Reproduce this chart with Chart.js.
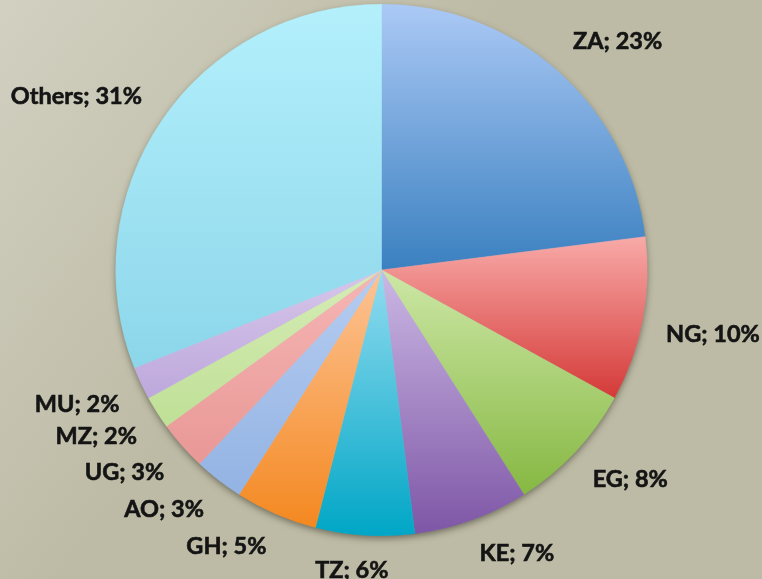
<!DOCTYPE html>
<html>
<head>
<meta charset="utf-8">
<script src="https://cdn.jsdelivr.net/npm/chart.js@4.4.0/dist/chart.umd.min.js"></script>
<style>
  html, body { margin: 0; padding: 0; }
  body {
    width: 762px; height: 579px; overflow: hidden;
    background-color: #bdbba5;
    background-image:
      linear-gradient(128deg, rgba(255,255,255,0.32) 0%, rgba(255,255,255,0.18) 18%, rgba(255,255,255,0.10) 30%, rgba(255,255,255,0) 42%);
  }
  #wrap { position: relative; width: 762px; height: 579px; }
</style>
</head>
<body>
<div id="wrap"><canvas id="c" width="762" height="579"></canvas></div>
<script>
const categories = ['ZA', 'NG', 'EG', 'KE', 'TZ', 'GH', 'AO', 'UG', 'MZ', 'MU', 'Others'];
const shares = [23, 10, 8, 7, 6, 5, 3, 3, 2, 2, 31];
const lightColors = ['#abc9f5', '#f8aaa8', '#cde7a6', '#cbb8e4', '#93dcf0', '#fdc496', '#b6cdf1', '#f5b6b4', '#d6ecb6', '#d6c6ea', '#b4f0fc'];
const darkColors  = ['#3a80c0', '#d43a38', '#86b842', '#7e56a6', '#00a6c6', '#f48820', '#93b3e3', '#e99896', '#bfe096', '#bea8dc', '#8cd6ea'];

const gradientPlugin = {
  id: 'sliceGradients',
  beforeDatasetsDraw(chart) {
    const ctx = chart.ctx;
    const meta = chart.getDatasetMeta(0);
    if (!meta.data.length) return;
    const el0 = meta.data[0];
    ctx.save();
    ctx.shadowColor = 'rgba(40,40,30,0.55)';
    ctx.shadowBlur = 7;
    ctx.shadowOffsetX = 0;
    ctx.shadowOffsetY = 3;
    ctx.fillStyle = '#9fd6e6';
    ctx.beginPath();
    ctx.arc(el0.x, el0.y, el0.outerRadius - 0.5, 0, Math.PI * 2);
    ctx.fill();
    ctx.restore();
    meta.data.forEach((el, i) => {
      const r = el.outerRadius;
      const a0 = el.startAngle, a1 = el.endAngle;
      let ys = [el.y, el.y + Math.sin(a0) * r, el.y + Math.sin(a1) * r];
      [Math.PI / 2, -Math.PI / 2, Math.PI * 1.5, Math.PI * 2.5].forEach(a => {
        if (a > a0 && a < a1) ys.push(el.y + Math.sin(a) * r);
      });
      const y0 = Math.min(...ys), y1 = Math.max(...ys);
      const g = ctx.createLinearGradient(0, y0, 0, y1);
      g.addColorStop(0, lightColors[i]);
      g.addColorStop(1, darkColors[i]);
      el.options.backgroundColor = g;
      el.options.borderColor = g;
    });
  },
  afterDatasetsDraw(chart) {
    const ctx = chart.ctx;
    const meta = chart.getDatasetMeta(0);
    ctx.save();
    ctx.font = 'bold 23.5px Lato, "Noto Sans", sans-serif';
    ctx.fillStyle = '#141414';
    ctx.strokeStyle = '#141414';
    ctx.lineWidth = 0.6;
    ctx.textAlign = 'center';
    ctx.textBaseline = 'middle';
    meta.data.forEach((el, i) => {
      const text = categories[i] + '; ' + shares[i] + '%';
      const hw = ctx.measureText(text).width / 2;
      const hh = 11;
      const mid = (el.startAngle + el.endAngle) / 2;
      const c = Math.cos(mid), s = Math.sin(mid);
      const d = el.outerRadius * 1.09;
      const fx = Math.sign(c) * Math.min(1, Math.abs(c) / 0.2);
      const fy = Math.sign(s) * Math.min(1, Math.abs(s) / 0.2);
      const x = el.x + c * d + hw * fx;
      const y = el.y + s * d + hh * fy;
      ctx.fillText(text, x, y);
      ctx.strokeText(text, x, y);
    });
    ctx.restore();
  }
};

new Chart(document.getElementById('c'), {
  type: 'pie',
  data: {
    labels: categories,
    datasets: [{
      data: shares,
      backgroundColor: lightColors,
      borderWidth: 0.5,
      borderColor: darkColors
    }]
  },
  options: {
    responsive: false,
    animation: false,
    events: [],
    layout: { padding: { top: 4, bottom: 43, left: 1, right: 0 } },
    plugins: { legend: { display: false }, tooltip: { enabled: false } }
  },
  plugins: [gradientPlugin]
});
</script>
</body>
</html>
